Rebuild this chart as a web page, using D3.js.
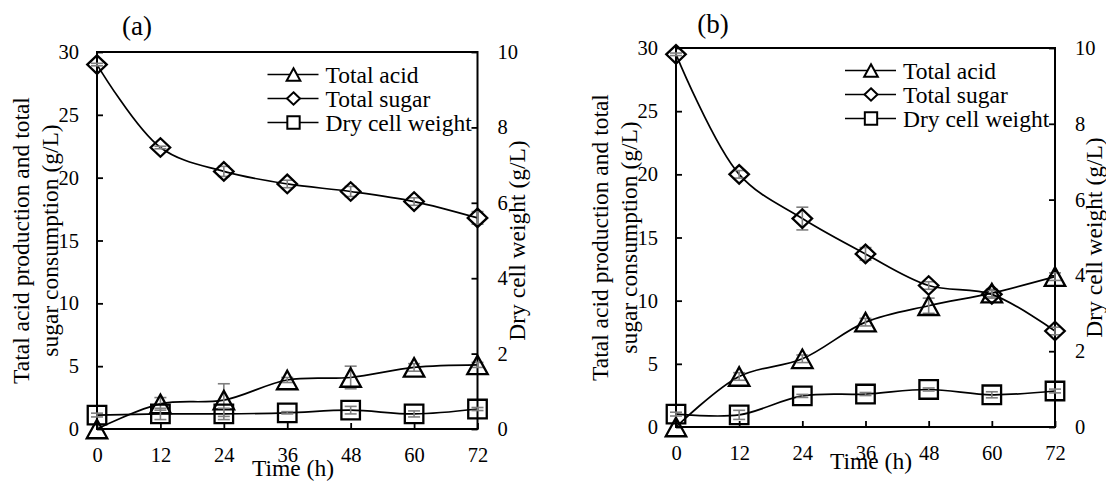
<!DOCTYPE html>
<html>
<head>
<meta charset="utf-8">
<script src="https://cdn.jsdelivr.net/npm/d3@7"></script>
<style>
  body { margin: 0; background: #fff; }
  svg { display: block; }
</style>
</head>
<body>
<svg id="chart" width="1106" height="486"></svg>
<script>
(function () {
    'use strict';

    var FONT = "'Liberation Serif', Tinos, 'Nimbus Roman', 'Times New Roman', 'DejaVu Serif', serif";

    var hours = [0, 12, 24, 36, 48, 60, 72];
    var leftTicks = [0, 5, 10, 15, 20, 25, 30];
    var rightTicks = [0, 2, 4, 6, 8, 10];
    var legendNames = ['Total acid', 'Total sugar', 'Dry cell weight'];

    // panel (a)
    var acidA = [0, 2.0, 2.3, 3.9, 4.1, 4.9, 5.1];
    var acidErrA = [0, 0.5, 1.3, 0.2, 0.9, 0.3, 0.2];
    var sugarA = [29.0, 22.4, 20.5, 19.5, 18.9, 18.1, 16.8];
    var sugarErrA = [0.1, 0.1, 0.4, 0.3, 0.4, 0.3, 0.5];
    var cellA = [0.37, 0.40, 0.40, 0.43, 0.50, 0.40, 0.53];
    var cellErrA = [0.05, 0.15, 0.15, 0.03, 0.1, 0.08, 0.04];

    // panel (b)
    var acidB = [0, 4.0, 5.4, 8.3, 9.6, 10.6, 11.9];
    var acidErrB = [0, 0.3, 0.3, 0.3, 0.6, 0.3, 0.3];
    var sugarB = [29.5, 20.0, 16.5, 13.7, 11.2, 10.5, 7.6];
    var sugarErrB = [0.1, 0.3, 0.9, 0.5, 0.3, 0.3, 0.3];
    var cellB = [0.34, 0.32, 0.82, 0.87, 0.99, 0.85, 0.95];
    var cellErrB = [0.05, 0.12, 0.04, 0.04, 0.04, 0.08, 0.05];

    var svg = d3.select('#chart').attr('font-family', FONT);

    // marker shapes, centred on 0,0
    var shapes = {
        triangle: function (s) {
            var w = s * 1.05, h = s * 0.95;
            return 'M0,' + (-h / 2) + 'L' + (w / 2) + ',' + (h / 2) + 'L' + (-w / 2) + ',' + (h / 2) + 'Z';
        },
        diamond: function (s) {
            var w = s, h = s * 0.95;
            return 'M0,' + (-h / 2) + 'L' + (w / 2) + ',0L0,' + (h / 2) + 'L' + (-w / 2) + ',0Z';
        },
        square: function (s) {
            var h = s * 0.95 / 2;
            return 'M' + (-h) + ',' + (-h) + 'H' + h + 'V' + h + 'H' + (-h) + 'Z';
        }
    };

    function drawPanel(p) {
        var x = d3.scaleLinear().domain([0, 72]).range([p.left, p.right]);
        var yL = d3.scaleLinear().domain([0, 30]).range([p.bottom, p.top]);
        var yR = d3.scaleLinear().domain([0, 10]).range([p.bottom, p.top]);

        var g = svg.append('g');

        var xAxis = g.append('g')
            .attr('transform', 'translate(0,' + p.bottom + ')')
            .call(d3.axisBottom(x).tickValues(hours).tickSizeInner(-6).tickSizeOuter(0).tickPadding(18));
        var lAxis = g.append('g')
            .attr('transform', 'translate(' + p.left + ',0)')
            .call(d3.axisLeft(yL).tickValues(leftTicks).tickSizeInner(-6).tickSizeOuter(0).tickPadding(18));
        var rAxis = g.append('g')
            .attr('transform', 'translate(' + p.right + ',0)')
            .call(d3.axisRight(yR).tickValues(rightTicks).tickSizeInner(-6).tickSizeOuter(0).tickPadding(20));

        [xAxis, lAxis, rAxis].forEach(function (a) {
            a.attr('font-family', FONT).attr('font-size', 20.5);
            a.select('.domain').remove();
            a.selectAll('.tick line').attr('stroke', '#000').attr('stroke-width', 1.8);
            a.selectAll('.tick text').attr('fill', '#000');
        });

        g.append('rect')
            .attr('x', p.left).attr('y', p.top)
            .attr('width', p.right - p.left).attr('height', p.bottom - p.top)
            .attr('fill', 'none').attr('stroke', '#000').attr('stroke-width', 2);

        var series = [
            { vals: p.acid, err: p.acidErr, y: yL, shape: 'triangle' },
            { vals: p.sugar, err: p.sugarErr, y: yL, shape: 'diamond' },
            { vals: p.cell, err: p.cellErr, y: yR, shape: 'square' }
        ];

        var line = d3.line().curve(d3.curveCatmullRom.alpha(0.5));

        series.forEach(function (s) {
            var pts = hours.map(function (h, i) { return [x(h), s.y(s.vals[i])]; });
            g.append('path')
                .attr('d', line(pts))
                .attr('fill', 'none').attr('stroke', '#000').attr('stroke-width', 1.7);

            var eb = g.append('g').attr('stroke', '#7f7f7f').attr('stroke-width', 1.6);
            hours.forEach(function (h, i) {
                if (!s.err[i]) return;
                var cx = x(h), y1 = s.y(s.vals[i] - s.err[i]), y2 = s.y(s.vals[i] + s.err[i]);
                eb.append('line').attr('x1', cx).attr('x2', cx).attr('y1', y1).attr('y2', y2);
                eb.append('line').attr('x1', cx - 6).attr('x2', cx + 6).attr('y1', y1).attr('y2', y1);
                eb.append('line').attr('x1', cx - 6).attr('x2', cx + 6).attr('y1', y2).attr('y2', y2);
            });

            g.append('g').selectAll('path')
                .data(pts)
                .enter()
                .append('path')
                .attr('transform', function (d) { return 'translate(' + d[0] + ',' + d[1] + ')'; })
                .attr('d', shapes[s.shape](19.5))
                .attr('fill', 'none').attr('stroke', '#000').attr('stroke-width', 2.3);
        });

        // legend
        var lg = g.append('g');
        series.forEach(function (s, i) {
            var cy = p.top + 22.5 + i * 24;
            lg.append('line')
                .attr('x1', p.right - 210).attr('x2', p.right - 159)
                .attr('y1', cy).attr('y2', cy)
                .attr('stroke', '#000').attr('stroke-width', 1.7);
            lg.append('path')
                .attr('transform', 'translate(' + (p.right - 184) + ',' + cy + ')')
                .attr('d', shapes[s.shape](13))
                .attr('fill', '#fff').attr('stroke', '#000').attr('stroke-width', 2);
            lg.append('text')
                .attr('x', p.right - 152).attr('y', cy + 8)
                .attr('font-size', 23.5)
                .text(legendNames[i]);
        });

        // titles
        g.append('text')
            .attr('x', p.titleX).attr('y', p.titleY)
            .attr('text-anchor', 'middle').attr('font-size', 27)
            .text(p.title);

        var midY = (p.top + p.bottom) / 2;
        g.append('text')
            .attr('transform', 'translate(' + (p.left - 68) + ',' + midY + ') rotate(-90)')
            .attr('text-anchor', 'middle').attr('font-size', 23.5)
            .text('Tatal acid production and total');
        g.append('text')
            .attr('transform', 'translate(' + (p.left - 39) + ',' + midY + ') rotate(-90)')
            .attr('text-anchor', 'middle').attr('font-size', 23.5)
            .text('sugar consumption (g/L)');
        g.append('text')
            .attr('transform', 'translate(' + (p.right + 47) + ',' + midY + ') rotate(-90)')
            .attr('text-anchor', 'middle').attr('font-size', 23.5)
            .text('Dry cell weight (g/L)');
        g.append('text')
            .attr('x', p.timeX).attr('y', p.timeY)
            .attr('text-anchor', 'middle').attr('font-size', 23.5)
            .text('Time (h)');
    }

    drawPanel({
        left: 97, right: 477.5, top: 52, bottom: 429,
        acid: acidA, acidErr: acidErrA, sugar: sugarA, sugarErr: sugarErrA, cell: cellA, cellErr: cellErrA,
        title: '(a)', titleX: 137, titleY: 35, timeX: 293, timeY: 476
    });

    drawPanel({
        left: 676, right: 1055, top: 48, bottom: 427,
        acid: acidB, acidErr: acidErrB, sugar: sugarB, sugarErr: sugarErrB, cell: cellB, cellErr: cellErrB,
        title: '(b)', titleX: 713, titleY: 33, timeX: 871, timeY: 469
    });
})();
</script>
</body>
</html>
